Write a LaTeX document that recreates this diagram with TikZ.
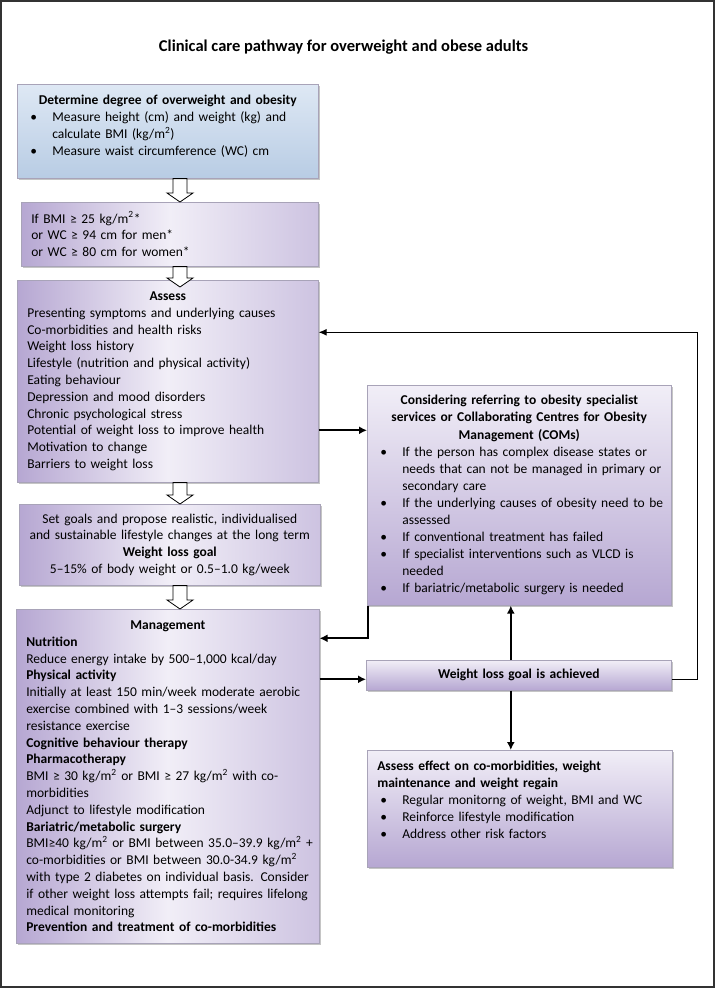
\documentclass[tikz,border=0pt]{standalone}
\usepackage{fontspec}
\setmainfont{Carlito}
\usepackage{tikz}
\usetikzlibrary{calc,shadows,arrows.meta,positioning}
\definecolor{lavdark}{RGB}{182,167,210}
\definecolor{lavmid}{RGB}{205,195,225}
\definecolor{lavlight}{RGB}{241,238,247}
\definecolor{bluetop}{RGB}{222,232,244}
\definecolor{bluebot}{RGB}{184,204,228}
\definecolor{boxline}{RGB}{168,163,184}
\newcommand{\arrx}{180pt}
\newcommand{\nb}[1]{\mbox{#1}}
\newcommand{\bitem}[1]{\hangindent=25pt\hangafter=1\noindent\hbox to 25pt{\hspace{3pt}\textbullet\hfil}#1\par}
\newcommand{\boxhead}[1]{{\centering\bfseries #1\par}}
\newcommand{\blockarrow}[3][0]{%
  \path[hollow] let \p1=(#2.south), \p2=(#3.north) in
    (\arrx-7pt,\y1) -- (\arrx-7pt,\y2+9pt-#1pt) -- (\arrx-13pt,\y2+9pt-#1pt)
    -- (\arrx,\y2-#1pt) -- (\arrx+13pt,\y2+9pt-#1pt) -- (\arrx+7pt,\y2+9pt-#1pt)
    -- (\arrx+7pt,\y1) -- cycle;}

\begin{document}
\begin{tikzpicture}[x=1pt,y=1pt]
  \tikzset{
    box/.style={draw=boxline, line width=0.6pt, anchor=north west, inner xsep=10pt, inner ysep=0pt,
      align=left, font=\fontsize{13.5}{16.8}\selectfont,
      drop shadow={shadow xshift=2pt, shadow yshift=-2pt, fill=black!45, opacity=0.5}},
    bluebox/.style={box, top color=bluetop, bottom color=bluebot},
    lavbox/.style={box, left color=lavdark, right color=lavmid, middle color=lavlight},
    lavboxv/.style={box, top color=lavlight, bottom color=lavdark},
    hollow/.style={draw=black, fill=white, line width=0.8pt},
    conn/.style={line width=1.8pt, -{Latex[length=8pt,width=8pt]}},
    loopline/.style={line width=1.1pt, -{Latex[length=8pt,width=7pt]}}
  }
  \useasboundingbox (0,0) rectangle (715,-988);
  \draw[line width=1.2pt, black!80] (1,-1) rectangle (714,-987);

  \node[font=\fontsize{16.5}{19}\selectfont\bfseries] (title) at (343.5,-47)
    {Clinical care pathway for overweight and obese adults};

  \node[bluebox, minimum width=301, minimum height=94, text width=281] (determine) at (17,-84) {%
    \boxhead{Determine degree of overweight and obesity}
    \bitem{\nb{Measure height (cm) and weight (kg) and}\newline calculate BMI (kg/m\textsuperscript{2})}
    \bitem{Measure waist circumference (WC) cm\rule[-12pt]{0pt}{12pt}}};

  \node[lavbox, minimum width=297, minimum height=64, text width=277] (screen) at (21,-202) {%
    If BMI ≥ 25 kg/m\textsuperscript{2}*\\
    or WC ≥ 94 cm for men*\\
    or WC ≥ 80 cm for women*};

  \node[lavbox, minimum width=301, minimum height=202, text width=281] (assess) at (17,-280) {%
    \boxhead{Assess}
    Presenting symptoms and underlying causes\\
    Co-morbidities and health risks\\
    Weight loss history\\
    Lifestyle (nutrition and physical activity)\\
    Eating behaviour\\
    Depression and mood disorders\\
    Chronic psychological stress\\
    Potential of weight loss to improve health\\
    Motivation to change\\
    Barriers to weight loss};

  \node[lavbox, align=center, minimum width=301, minimum height=81, text width=281] (goals) at (19,-504) {%
    Set goals and propose realistic, individualised\\
    \nb{and sustainable lifestyle changes at the long term}\\
    {\bfseries Weight loss goal}\\
    5–15\% of body weight or 0.5–1.0 kg/week};

  \node[lavbox, minimum width=303, minimum height=334, text width=283] (manage) at (16,-609) {%
    \boxhead{Management}
    {\bfseries Nutrition}\\
    Reduce energy intake by 500–1,000 kcal/day\\
    {\bfseries Physical activity}\\
    \nb{Initially at least 150 min/week moderate aerobic}\\
    exercise combined with 1–3 sessions/week\\
    resistance exercise\\
    {\bfseries Cognitive behaviour therapy}\\
    {\bfseries Pharmacotherapy}\\
    \nb{BMI ≥ 30 kg/m\textsuperscript{2} or BMI ≥ 27 kg/m\textsuperscript{2} with co-}\\
    morbidities\\
    Adjunct to lifestyle modification\\
    {\bfseries Bariatric/metabolic surgery}\\
    \nb{BMI≥40 kg/m\textsuperscript{2} or BMI between 35.0–39.9 kg/m\textsuperscript{2} +}\\
    \nb{co-morbidities or BMI between 30.0-34.9 kg/m\textsuperscript{2}}\\
    \nb{with type 2 diabetes on individual basis. Consider}\\
    \nb{if other weight loss attempts fail; requires lifelong}\\
    medical monitoring\\
    {\bfseries Prevention and treatment of co-morbidities}};

  \node[lavboxv, font=\fontsize{13.5}{17.1}\selectfont, minimum width=304, minimum height=220, text width=284] (refer) at (367,-385) {%
    \boxhead{Considering referring to obesity specialist\\
      \nb{services or Collaborating Centres for Obesity}\\
      Management (COMs)}
    \bitem{\nb{If the person has complex disease states or}\newline \nb{needs that can not be managed in primary or}\newline secondary care}
    \bitem{\nb{If the underlying causes of obesity need to be}\newline assessed}
    \bitem{If conventional treatment has failed}
    \bitem{\nb{If specialist interventions such as VLCD is}\newline needed}
    \bitem{If bariatric/metabolic surgery is needed}};

  \node[lavboxv, align=center, minimum width=305, minimum height=30, text width=285] (achieved) at (366,-660)
    {\bfseries Weight loss goal is achieved};

  \node[lavboxv, minimum width=305, minimum height=117, text width=285] (maintain) at (367,-750) {%
    {\bfseries Assess effect on co-morbidities, weight\\ maintenance and weight regain\par}
    \bitem{Regular monitorng of weight, BMI and WC}
    \bitem{Reinforce lifestyle modification}
    \bitem{Address other risk factors\rule[-18pt]{0pt}{18pt}}};

  \blockarrow{determine}{screen}
  \blockarrow[7]{screen}{assess}
  \blockarrow{assess}{goals}
  \blockarrow{goals}{manage}

  \draw[conn] ([yshift=-49pt]assess.east) -- ([yshift=-49pt]assess.east -| refer.west);
  \draw[conn] ([xshift=1pt]refer.south west) |- ([yshift=138pt]manage.east);
  \draw[conn] ([yshift=97pt]manage.east) -- ([yshift=97pt]manage.east -| achieved.west);
  \draw[conn] ([xshift=-8pt]achieved.north) -- ([xshift=-8pt]achieved.north |- refer.south);
  \draw[conn] ([xshift=-8pt]achieved.south) -- ([xshift=-8pt]achieved.south |- maintain.north);
  \draw[loopline] ([yshift=-4pt]achieved.east) -- ++(26,0) |- ([yshift=49pt]assess.east);
\end{tikzpicture}
\end{document}
